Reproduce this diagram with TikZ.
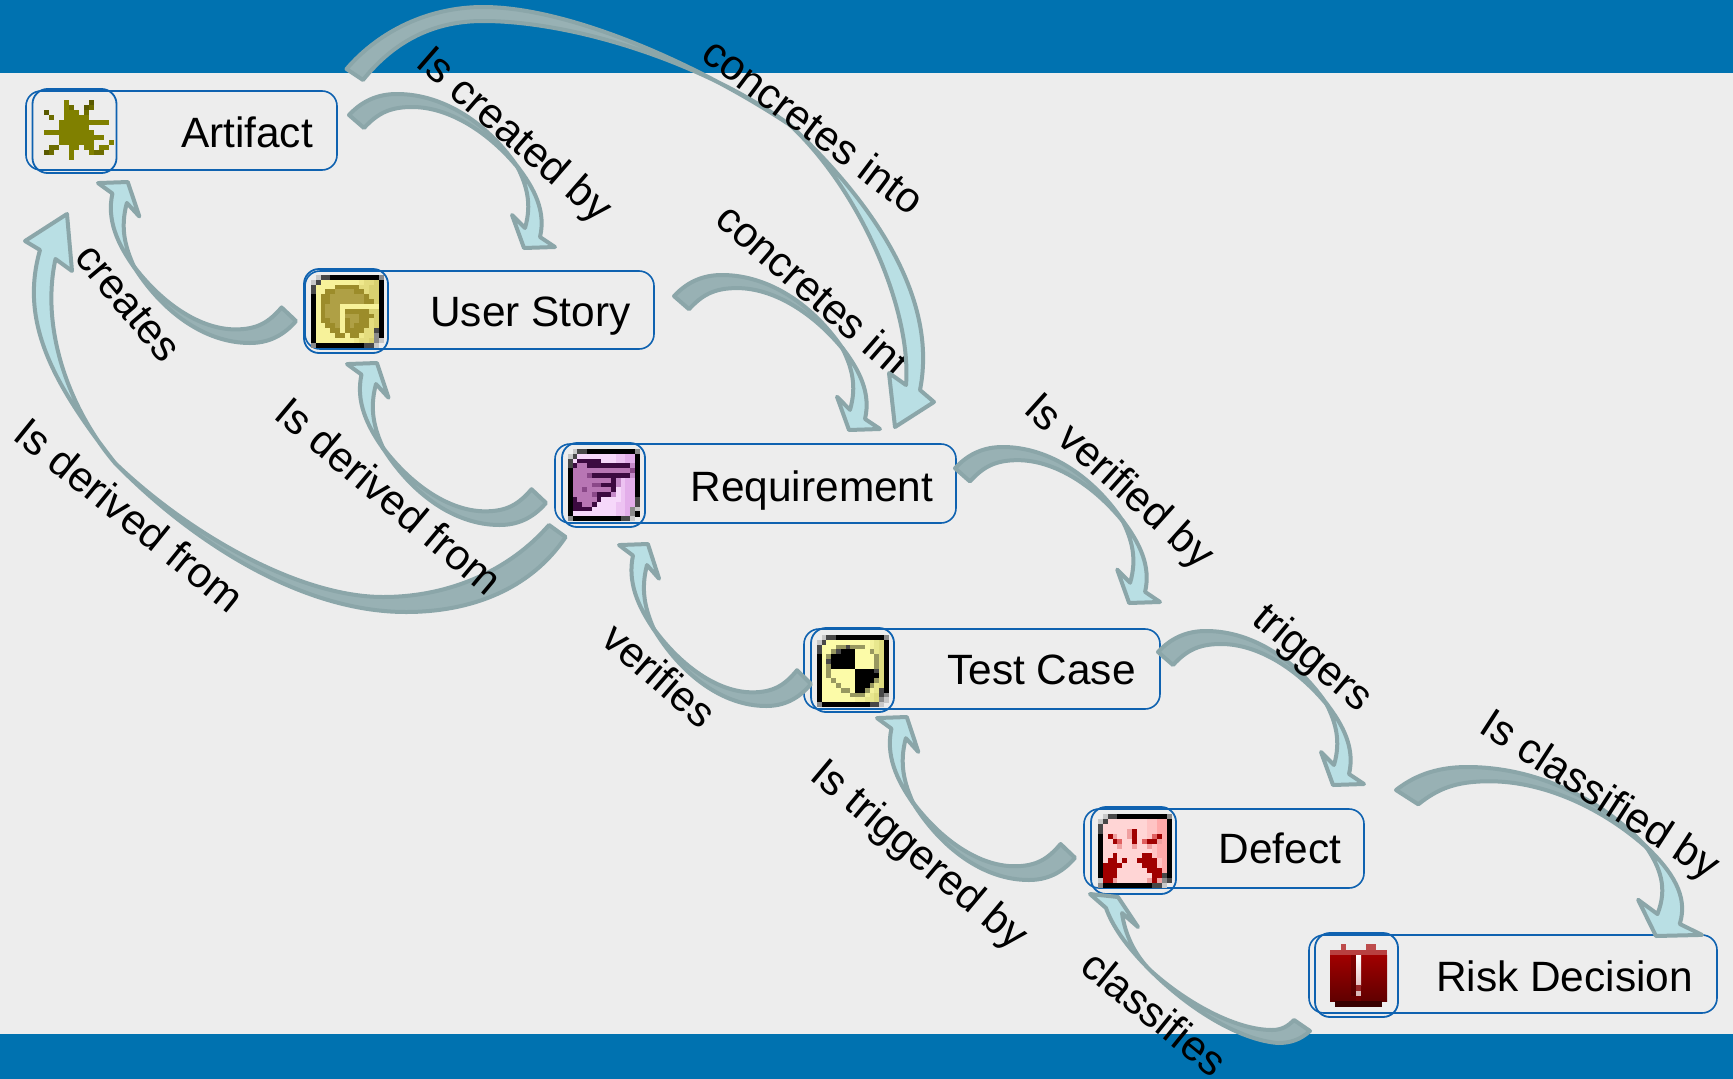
\documentclass[tikz,border=0pt]{standalone}
\usepackage{fontspec}
\setmainfont{Liberation Sans}
\definecolor{barblue}{HTML}{0072B0}
\definecolor{pagegrey}{HTML}{EDEDED}
\definecolor{boxblue}{HTML}{0F62B0}
\definecolor{tailfill}{HTML}{98B1B4}
\definecolor{headfill}{HTML}{B9DFE4}
\definecolor{arrowline}{HTML}{8BA6A9}
% pixel palette
\definecolor{pxl}{HTML}{C8C8C8}\definecolor{pxg}{HTML}{484848}\definecolor{pxm}{HTML}{8A8A8A}\definecolor{pxk}{HTML}{000000}
\definecolor{pxy}{HTML}{F7F29A}\definecolor{pxu}{HTML}{EFE88C}\definecolor{pxv}{HTML}{E4DC7E}\definecolor{pxw}{HTML}{D8D070}
\definecolor{pxd}{HTML}{9C8C2A}\definecolor{pxe}{HTML}{AFA045}
\definecolor{pxa}{HTML}{FCFBA8}\definecolor{pxb}{HTML}{F4F29C}\definecolor{pxc}{HTML}{E8E78E}\definecolor{pxf}{HTML}{DEDC80}\definecolor{pxr}{HTML}{989860}
\definecolor{pxP}{HTML}{F6D8FA}\definecolor{pxQ}{HTML}{EDC3F2}\definecolor{pxR}{HTML}{E3AEEA}\definecolor{pxD}{HTML}{3C0A40}
\definecolor{pxM}{HTML}{B876B4}\definecolor{pxN}{HTML}{8A4888}\definecolor{pxS}{HTML}{C48AC8}
\definecolor{pxA}{HTML}{FFD5D5}\definecolor{pxB}{HTML}{FFC4C4}\definecolor{pxC}{HTML}{FFAAAA}\definecolor{pxE}{HTML}{A00000}\definecolor{pxF}{HTML}{E06060}\definecolor{pxG}{HTML}{F0A0A0}
\definecolor{pxo}{HTML}{808000}\definecolor{pxp}{HTML}{5A5A00}\definecolor{pxq}{HTML}{6D6D00}
\tikzset{
  x=1pt,y=-1pt,
  diagbox/.style={draw=boxblue,line width=1.6pt,rounded corners=15pt,fill=pagegrey,inner sep=0pt,outer sep=0pt,anchor=north west},
  iconframe/.style={draw=boxblue,line width=1.8pt,rounded corners=15pt,inner sep=0pt,outer sep=0pt,anchor=north west},
  boxtext/.style={font=\fontsize{42.4}{48}\selectfont,anchor=base,inner sep=0pt},
  rellabel/.style={font=\fontsize{42.4}{48}\selectfont,anchor=base west,inner sep=0pt},
  arrowedge/.style={draw=arrowline,line width=4pt,line join=round},
}
\makeatletter
\newcount\pxcol
\def\pxdot{x}
% \pxicon{x0}{y0}{cell}{row,row,...}
\newcommand\pxrowdraw[4]{\pxcol=0
  \@tfor\pxch:=#1\do{%
    \ifx\pxch\pxdot\else
      \fill[fill=px\pxch] ({#2+\the\pxcol*#4},#3) rectangle ({#2+\the\pxcol*#4+#4+.3},{#3+#4+.3});
    \fi
    \advance\pxcol by 1 }}
\newcommand\pxicon[4]{%
  \foreach \pxr [count=\pxj from 0] in {#4}{%
    \pgfmathsetmacro\pxy{#2+\pxj*#3}%
    \expandafter\pxrowdraw\expandafter{\pxr}{#1}{\pxy}{#3}}}
% template-based curved arrow between two named corner coordinates
\newcommand\flowarrow[2]{%
  \pgfpointanchor{#1}{center}\edef\flAx{\the\pgf@x}\edef\flAy{\the\pgf@y}%
  \pgfpointanchor{#2}{center}\edef\flBx{\the\pgf@x}\edef\flBy{\the\pgf@y}%
  \pgfmathsetmacro\flSx{((\flBx)-(\flAx))/206}%
  \pgfmathsetmacro\flSy{((\flAy)-(\flBy))/154}%
  \begin{scope}[shift={(\flAx,\flAy)},xscale=\flSx,yscale=\flSy]
    \path[arrowedge,fill=headfill] (168,72) .. controls (186,95) and (197,118) .. (191,143)
       -- (206,153) -- (175,154) -- (163,121) -- (176,134) .. controls (183,110) and (178,92) .. (168,72) -- cycle;
    \path[arrowedge,fill=tailfill] (0,21) .. controls (14,6) and (30,0) .. (48,0)
       .. controls (95,0) and (140,30) .. (170,75)
       .. controls (140,38) and (100,13) .. (63,13) .. controls (40,13) and (28,20) .. (15,34) -- cycle;
  \end{scope}}
\makeatother
\begin{document}
\begin{tikzpicture}
\useasboundingbox (0,0) rectangle (1733,1079);
\fill[pagegrey] (0,0) rectangle (1733,1079);
\fill[barblue] (0,0) rectangle (1733,73);
\fill[barblue] (0,1034) rectangle (1733,1079);

% boxes
\node[diagbox,minimum width=311pt,minimum height=79pt] (artifact) at (26,91) {};
\node[diagbox,minimum width=349pt,minimum height=78pt] (userstory) at (305,271) {};
\node[diagbox,minimum width=401pt,minimum height=79pt] (requirement) at (555,444) {};
\node[diagbox,minimum width=356pt,minimum height=80pt] (testcase) at (804,629) {};
\node[diagbox,minimum width=280pt,minimum height=79pt] (defect) at (1084,809) {};
\node[diagbox,minimum width=408pt,minimum height=78pt] (riskdecision) at (1309,935) {};

% box texts
\node[boxtext] (artifacttext) at (247,147) {Artifact};
\node[boxtext] (userstorytext) at (530.5,326) {User Story};
\node[boxtext] (requirementtext) at (812,501) {Requirement};
\node[boxtext] (testcasetext) at (1041.5,684) {Test Case};
\node[boxtext] (defecttext) at (1280,863) {Defect};
\node[boxtext] (riskdecisiontext) at (1564.5,991) {Risk Decision};

% icons
\pxicon{44}{100}{5}{xxxxoxxxxp,xxxxoqxxpq,pxxxoooxq,xqxxooooo,xxxoooooooooo,xxxoooooo,oooooooooo,xxxooooooooo,xxxoooooooxxxo,xqqxxooxooxoo,pqxxxoxxxoqq,xxxxxo}
\pxicon{311}{275}{4.83}{xlggkkkkkkkkkkm,lgyyyyyyyyuvvwk,gyyyydddddvvwwk,gyyddeeeeddvwwk,kyddeeeeeeedwwk,kyddeeeeeeeddwk,kydeeeyyyyyyyyk,kydeeeydddddwwk,kydeeeyeeedddwk,kyddeeydeeddvwk,kyyddeydedddvwk,kyyyddyddddvvgk,kyyyyddydduvvmk,kyyyyyyyyuvvwml,mkkkkkkkkkkgglx}
\pxicon{567.7}{449}{4.8}{xlggkkkkkkkkkkm,lgPPPPPPPPQQRRk,gPDDDDDPPPQQRRk,gDMMDDDDDDDDDSk,kMMMMMMMMMMMMNk,kMMMNDDDDDDDDSk,kMMMMMMMMDSQRRk,kMMMMNNDDDSQRRk,kMMNMMMMMDPQRRk,kMMMMNDDDSPQRRk,kDMMMMDPPPPQRRg,kDDMMDPPPPQQRRg,kDDDDPPPPPQQRml,kPPPPPPPPPQQRmk,mkkkkkkkkkkgglx}
\pxicon{816.7}{635}{4.8}{xlggkkkkkkkkkkm,lgaaaaaaaaabcfk,gaaarrgrrrabcfk,gaargkkkaaarcfk,karkkkkkaaaarfk,kagkkkkkaaaarfk,karkkkkkaaaarfk,karaaaaakkkkgfk,karaaaaakkkkkfk,kaaraaaakkkkrfk,kaaaraaakkkrcfk,kaaaarrakkrbcgk,kaaaaaarrrbcfgm,kaaaaaaabbccfml,mkkkkkkkkkkgglx}
\pxicon{1097.7}{814}{4.93}{xlggkkkkkkkkkkm,lgAAAAAAAABBCCk,gAAAAAAAAABBCCk,gAAAAAGEAABBCCk,kAEGAAGEAABFECk,kAAEFAAEAFEEGCk,kAAAGAAGAAGBCCk,kAAAAAAAAAABCCk,kAAEAAAAAEEBCCk,kAEEAEAAEEEEBCk,kEEEEAAAAEEEBCk,kEEEAAAAAAEEECk,kEEEAAAAAAAEEgk,lEEGAAAAAAGEGmg,mkkkkkkkkkkgglx}
% risk icon
\fill[fill=pxE!70!white] (1341,944) rectangle (1346,951);
\fill[fill=pxE!70!white] (1366,944) rectangle (1376,951);
\fill[fill=pxE!75!white] (1330,950) rectangle (1387,956);
\shade[top color=pxE,bottom color=pxE!60!black] (1330,955.5) rectangle (1387,1001);
\fill[fill=black,opacity=.18] (1351,955) rectangle (1356,996);
\fill[fill=pxE!35!black] (1335,1000.5) rectangle (1382,1007);
\shade[top color=white,bottom color=pxA!80!gray] (1356,955) rectangle (1361,985);
\fill[fill=pxE!70!gray] (1356,985) rectangle (1361,991);
\fill[fill=pxA!70!gray] (1356,991) rectangle (1361,996);
\fill[fill=pxE!70!black] (1356,996) rectangle (1361,1001);

% icon frames
\node[iconframe,minimum width=84pt,minimum height=84pt] (artifacticon) at (32.5,89) {};
\node[iconframe,minimum width=84pt,minimum height=84pt] (userstoryicon) at (304,269) {};
\node[iconframe,minimum width=83pt,minimum height=84pt] (requirementicon) at (562,443) {};
\node[iconframe,minimum width=83pt,minimum height=84pt] (testcaseicon) at (811,628) {};
\node[iconframe,minimum width=85pt,minimum height=87pt] (defecticon) at (1091,807) {};
\node[iconframe,minimum width=83pt,minimum height=84pt] (riskdecisionicon) at (1315,933) {};

% arrow corner coordinates
\coordinate (cbA) at (349,94);   \coordinate (cbB) at (555,248);
\coordinate (crA) at (296,343);  \coordinate (crB) at (98,182);
\coordinate (ciA) at (674,275);  \coordinate (ciB) at (880,430);
\coordinate (dfA) at (546,525);  \coordinate (dfB) at (347,363);
\coordinate (vbA) at (955,447);  \coordinate (vbB) at (1160,603);
\coordinate (veA) at (811,706);  \coordinate (veB) at (619,544);
\coordinate (trA) at (1158,631); \coordinate (trB) at (1364,785);
\coordinate (tbA) at (1075,880); \coordinate (tbB) at (877,717);
\coordinate (clA) at (1396,767); \coordinate (clB) at (1702,936);

\flowarrow{cbA}{cbB}
\flowarrow{crA}{crB}
\flowarrow{ciA}{ciB}
\flowarrow{dfA}{dfB}
\flowarrow{vbA}{vbB}
\flowarrow{veA}{veB}
\flowarrow{trA}{trB}
\flowarrow{tbA}{tbB}
\flowarrow{clA}{clB}

% arrow: classifies (flatter, thinner than the others)
\path[arrowedge,fill=headfill] (1150,970) .. controls (1125,945) and (1112,925) .. (1106,908) -- (1090,894) -- (1118,897) -- (1138,927) -- (1122,913) .. controls (1125,935) and (1135,955) .. (1150,970) -- cycle;
\path[arrowedge,fill=tailfill] (1310,1031) .. controls (1300,1040) and (1290,1043) .. (1278,1043) .. controls (1240,1040) and (1190,1010) .. (1150,970) .. controls (1185,1002) and (1235,1030) .. (1272,1030) .. controls (1282,1030) and (1288,1026) .. (1294,1020) -- cycle;

% label covered by the large arrow
\node[rellabel,rotate=-41] (lconcretesb) at (713,222) {concretes int};

% large arrow: concretes into
\path[arrowedge,fill=headfill] (790,125) .. controls (860,190) and (940,290) .. (920,390) -- (934,402) -- (895,427) -- (889,373) -- (906,385) .. controls (912,310) and (860,190) .. (790,125) -- cycle;
\path[arrowedge,fill=tailfill] (346.5,69) .. controls (380,30) and (430,7) .. (483,7) .. controls (570,7) and (700,65) .. (790,125) .. controls (700,60) and (570,21) .. (483,21) .. controls (435,21) and (395,40) .. (363,80) -- cycle;
% large arrow: is derived from
\path[arrowedge,fill=headfill] (115,463) .. controls (50,380) and (20,320) .. (40,250) -- (25,241) -- (67,214) -- (72,271) -- (55.5,259) .. controls (40,330) and (70,410) .. (115,463) -- cycle;
\path[arrowedge,fill=tailfill] (565.6,537) .. controls (530,590) and (470,612) .. (406,612) .. controls (300,612) and (190,540) .. (115,463) .. controls (190,535) and (300,597) .. (383,597) .. controls (450,597) and (510,570) .. (549,525) -- cycle;

% labels
\node[rellabel,rotate=-41] (lcreatedby) at (414,65) {Is created by};
\node[rellabel,rotate=-50] (lcreates) at (73,258) {creates};
\node[rellabel,rotate=-37] (lconcretesa) at (699,58) {concretes into};
\node[rellabel,rotate=-39] (lderiveda) at (11,438) {Is derived from};
\node[rellabel,rotate=-40] (lderivedb) at (272,417) {Is derived from};
\node[rellabel,rotate=-42] (lverifiedby) at (1022,411) {Is verified by};
\node[rellabel,rotate=-41] (lverifies) at (599,642) {verifies};
\node[rellabel,rotate=-40] (ltriggers) at (1250,622) {triggers};
\node[rellabel,rotate=-40] (ltriggeredby) at (808,778) {Is triggered by};
\node[rellabel,rotate=-33] (lclassifiedby) at (1477,731) {Is classified by};
\node[rellabel,rotate=-39] (lclassifies) at (1078,970) {classifies};
\end{tikzpicture}
\end{document}
